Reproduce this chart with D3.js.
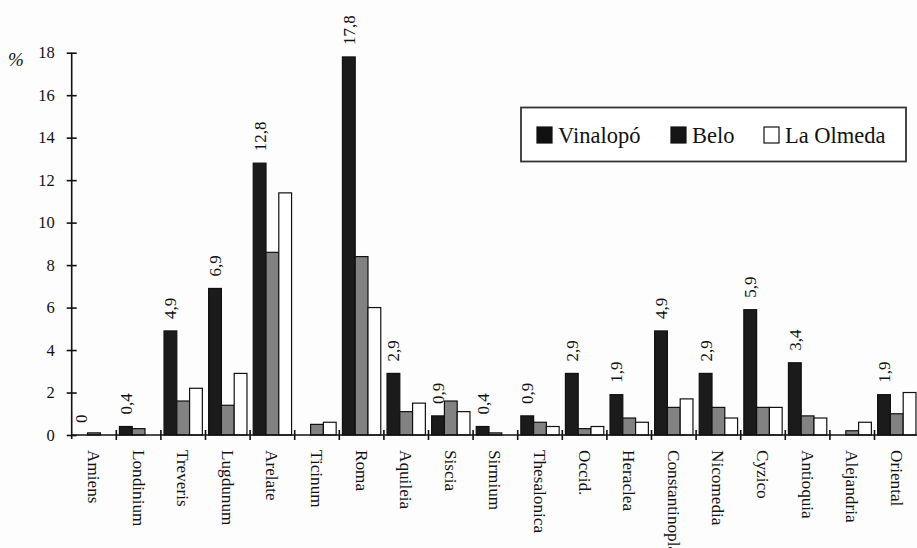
<!DOCTYPE html>
<html><head><meta charset="utf-8">
<script src="https://cdn.jsdelivr.net/npm/d3@7"></script>
<style>
html,body{margin:0;padding:0;background:#fdfdfd;}
svg{display:block;}
svg text{font-family:"Liberation Serif","Times New Roman",serif;}
</style></head>
<body>
<svg id="chart" width="917" height="548"></svg>
<script>
const categories = ["Amiens","Londinium","Treveris","Lugdunum","Arelate","Ticinum","Roma","Aquileia","Siscia","Sirmium","Thesalonica","Occid.","Heraclea","Constantinopla","Nicomedia","Cyzico","Antioquia","Alejandria","Oriental"];
const seriesNames = ["Vinalopó","Belo","La Olmeda"];
const vinalopo = [0,0.4,4.9,6.9,12.8,0,17.8,2.9,0.9,0.4,0.9,2.9,1.9,4.9,2.9,5.9,3.4,0,1.9];
const belo     = [0.1,0.3,1.6,1.4,8.6,0.5,8.4,1.1,1.6,0.1,0.6,0.3,0.8,1.3,1.3,1.3,0.9,0.2,1.0];
const olmeda   = [0,0,2.2,2.9,11.4,0.6,6.0,1.5,1.1,0,0.4,0.4,0.6,1.7,0.8,1.3,0.8,0.6,2.0];
const valueLabels = ["0","0,4","4,9","6,9","12,8",null,"17,8","2,9","0,9","0,4","0,9","2,9","1,9","4,9","2,9","5,9","3,4",null,"1,9"];
const yTicks = [0,2,4,6,8,10,12,14,16,18];

const seriesValues = [vinalopo, belo, olmeda];
const fills = ["#1b1b1b","#828282","#ffffff"];
const legendFills = ["#111111","#151515","#ffffff"];
const FONT = "Liberation Serif";

const svg = d3.select("#chart");
svg.append("rect").attr("width",917).attr("height",548).attr("fill","#fdfdfd");

const mLeft = 71.7, mBottom = 435, mTop = 52.7;
const x = d3.scaleBand().domain(categories).range([mLeft, mLeft + 19*44.6]).paddingInner(0).paddingOuter(0);
const xs = d3.scaleBand().domain(seriesNames).range([0, x.bandwidth()]).paddingInner(0).paddingOuter(0.245);
const y = d3.scaleLinear().domain([0,18]).range([mBottom, mTop]);

// bars
const rows = categories.map((c,i)=>({cat:c, vals: seriesNames.map((s,j)=>({s, v: seriesValues[j][i], j}))}));
const g = svg.append("g");
g.selectAll("g.cat").data(rows).join("g").attr("class","cat")
  .attr("transform", d=>`translate(${x(d.cat)},0)`)
  .selectAll("rect").data(d=>d.vals.filter(v=>v.v>0)).join("rect")
  .attr("x", d=>xs(d.s)).attr("width", xs.bandwidth())
  .attr("y", d=>y(d.v)).attr("height", d=>y(0)-y(d.v))
  .attr("fill", d=>fills[d.j]).attr("stroke","#111").attr("stroke-width",1.2);

// y axis
const yAxis = d3.axisLeft(y).tickValues(yTicks).tickSize(5).tickPadding(12).tickFormat(d3.format("d"));
const ya = svg.append("g").attr("transform",`translate(${mLeft},0)`).call(yAxis)
  .attr("font-family",FONT).attr("font-size",16.5);
ya.select(".domain").attr("d",`M0,${mTop}V${mBottom+4}`).attr("stroke","#111").attr("stroke-width",1.6);
ya.selectAll(".tick line").attr("x1",-5).attr("x2",5).attr("stroke","#111").attr("stroke-width",1.6);
ya.selectAll(".tick text").attr("font-size",16.5).attr("fill","#111").attr("font-family",FONT);

// x axis
const xa = svg.append("g").attr("transform",`translate(0,${mBottom})`);
xa.append("line").attr("x1",mLeft).attr("x2",917).attr("y1",0).attr("y2",0).attr("stroke","#111").attr("stroke-width",1.6);
xa.selectAll("line.t").data(categories.slice(1)).join("line").attr("class","t")
  .attr("x1",d=>x(d)).attr("x2",d=>x(d)).attr("y1",-5).attr("y2",5).attr("stroke","#111").attr("stroke-width",1.6);
xa.selectAll("text.cl").data(categories).join("text").attr("class","cl")
  .attr("transform",d=>`translate(${x(d)+x.bandwidth()/2},${15}) rotate(90)`)
  .attr("dy","0.35em").attr("text-anchor","start").attr("font-size",17.2).attr("font-family",FONT).attr("fill","#111")
  .text(d=>d);

// value labels
svg.selectAll("text.vl").data(categories.map((c,i)=>({c, t:valueLabels[i], v:vinalopo[i]})).filter(d=>d.t!==null))
  .join("text").attr("class","vl")
  .attr("transform",d=>`translate(${x(d.c)+xs("Vinalopó")+xs.bandwidth()/2},${y(d.v)-12}) rotate(-90)`)
  .attr("dy","0.35em").attr("text-anchor","start").attr("font-size",17).attr("font-family",FONT).attr("fill","#111")
  .text(d=>d.t);

// % sign
svg.append("text").attr("x",8).attr("y",66).attr("font-size",19).attr("font-style","italic").attr("font-family",FONT).attr("fill","#111").text("%");

// legend
const lg = svg.append("g");
lg.append("rect").attr("x",521).attr("y",107.5).attr("width",385).attr("height",54)
  .attr("fill","#fff").attr("stroke","#333").attr("stroke-width",1.8);
const legX = [537, 671, 764];
const items = lg.selectAll("g.li").data(seriesNames).join("g").attr("class","li");
items.append("rect").attr("x",(d,i)=>legX[i]).attr("y",127).attr("width",15).attr("height",16)
  .attr("fill",(d,i)=>legendFills[i]).attr("stroke","#111").attr("stroke-width",1.2);
items.append("text").attr("x",(d,i)=>legX[i]+21).attr("y",143).attr("font-size",22.5).attr("font-family",FONT).attr("fill","#111").text(d=>d);
</script>
</body></html>
